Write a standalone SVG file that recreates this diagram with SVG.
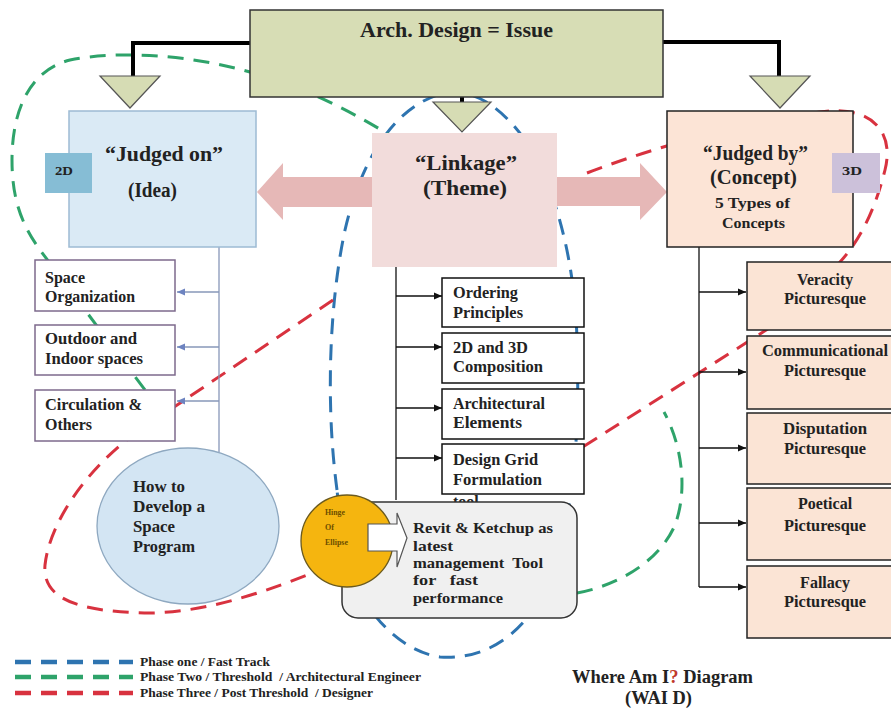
<svg xmlns="http://www.w3.org/2000/svg" width="891" height="711" viewBox="0 0 891 711">
<style>
text{font-family:"Liberation Serif","Times New Roman",serif;font-weight:bold;fill:#222}
.h{font-size:20px}
.s{font-size:16px}
.r{font-size:15px}
.c{text-anchor:middle}
.lb{fill:#fff;stroke:#7d6a8c;stroke-width:1.5}
.mb{fill:#fff;stroke:#111;stroke-width:1.5}
.rb{fill:#fbe4d5;stroke:#222;stroke-width:1.5}
.tri{fill:#d6dcb4;stroke:#555;stroke-width:1.2}
.blk{fill:none;stroke:#000;stroke-width:4}
.dash{fill:none;stroke-width:3;stroke-dasharray:16 10}
.leg{stroke-width:4.5}
.pk{fill:#e6b8b7}
.lg{font-size:12.5px}
</style>
<defs>
<marker id="ab" markerWidth="9" markerHeight="8" refX="8" refY="4" orient="auto" markerUnits="userSpaceOnUse"><path d="M0,0.5 L8,4 L0,7.5 z" fill="#111"/></marker>
<marker id="ag" markerWidth="9" markerHeight="8" refX="8" refY="4" orient="auto" markerUnits="userSpaceOnUse"><path d="M0,0.5 L8,4 L0,7.5 z" fill="#6d83c0"/></marker>
</defs>
<rect width="891" height="711" fill="#fff"/>

<g id="phase-loops">
<path class="dash" stroke="#2e74b0" d="M337 490 C325 400 330 300 345 230 C360 165 390 110 440 94 C470 86 500 105 525 140 C555 185 575 260 577 340 C580 430 575 520 545 590 C520 640 480 660 440 657 C405 652 370 620 355 580 C345 550 340 520 337 490 Z"/>
<path class="dash" stroke="#2ea36a" d="M400 142 C360 115 300 85 250 72 C190 55 120 50 70 60 C30 70 12 110 12 160 C12 200 22 225 40 250 L160 410"/>
<path class="dash" stroke="#2ea36a" d="M577 593 C620 585 660 560 675 525 C688 490 682 445 664 412"/>
<path class="dash" stroke="#d8323f" d="M587 173 Q700 130 820 112 C870 105 895 130 885 170 C875 210 860 240 840 262 C815 290 790 315 763 332 L575 452"/>
<path class="dash" stroke="#d8323f" d="M333 300 L140 430 C90 465 50 520 45 565 C42 600 80 612 150 613 C210 612 270 590 320 570"/>
</g>

<g id="connectors">
<path class="blk" d="M250 43 H133 V77"/>
<path class="blk" d="M663 42 H779 V76"/>
<path class="blk" d="M462 96 V103"/>
<polygon class="tri" points="100,76 160,76 130,108"/>
<polygon class="tri" points="750,76 810,76 780,108"/>
<polygon class="tri" points="433,102 491,102 462,132"/>
<polygon class="pk" points="372,177 283,177 283,163 257,192 283,220 283,207 372,207"/>
<polygon class="pk" points="557,177 640,177 640,163 667,192 640,220 640,206 557,206"/>
<g stroke="#8797b8" stroke-width="1.3" fill="none">
<path d="M219 247 V452"/>
<path d="M219 292 H177" marker-end="url(#ag)"/>
<path d="M219 347 H177" marker-end="url(#ag)"/>
<path d="M219 401 H177" marker-end="url(#ag)"/>
</g>
<g stroke="#111" stroke-width="1.3" fill="none">
<path d="M396 266 V500"/>
<path d="M396 296 H442" marker-end="url(#ab)"/>
<path d="M396 347 H442" marker-end="url(#ab)"/>
<path d="M396 408 H442" marker-end="url(#ab)"/>
<path d="M396 458 H442" marker-end="url(#ab)"/>
<path d="M699 247 V587"/>
<path d="M699 292 H746" marker-end="url(#ab)"/>
<path d="M699 372 H746" marker-end="url(#ab)"/>
<path d="M699 448 H746" marker-end="url(#ab)"/>
<path d="M699 523 H746" marker-end="url(#ab)"/>
<path d="M699 587 H746" marker-end="url(#ab)"/>
</g>
</g>

<g id="issue">
<rect x="250" y="10" width="413" height="87" fill="#d7ddb5" stroke="#333" stroke-width="1.5"/>
<text class="h" x="360" y="37" textLength="193" lengthAdjust="spacingAndGlyphs">Arch. Design = Issue</text>
</g>

<g id="judged-on">
<rect x="69" y="111" width="187" height="136" fill="#daeaf5" stroke="#9dbbd3" stroke-width="1.5"/>
<text class="h" x="105" y="161" textLength="118" lengthAdjust="spacingAndGlyphs">“Judged on”</text>
<text class="h" x="128" y="197" textLength="49" lengthAdjust="spacingAndGlyphs">(Idea)</text>
</g>
<g id="tag-2d">
<rect x="45" y="153" width="47" height="40" fill="#86bdd5"/>
<text x="55" y="175" font-size="13" textLength="18" lengthAdjust="spacingAndGlyphs">2D</text>
</g>

<g id="linkage">
<rect x="372" y="133" width="185" height="134" fill="#f2dcdb"/>
<text class="h" x="415" y="170" textLength="102" lengthAdjust="spacingAndGlyphs">“Linkage”</text>
<text class="h" x="423" y="195" textLength="84" lengthAdjust="spacingAndGlyphs">(Theme)</text>
</g>

<g id="judged-by">
<rect x="667" y="111" width="186" height="136" fill="#fce4d6" stroke="#222" stroke-width="1.5"/>
<text class="h" x="703" y="160" textLength="105" lengthAdjust="spacingAndGlyphs">“Judged by”</text>
<text class="h" x="710" y="184" textLength="87" lengthAdjust="spacingAndGlyphs">(Concept)</text>
<text x="715" y="208" font-size="15" textLength="75" lengthAdjust="spacingAndGlyphs">5 Types of</text>
<text x="722" y="228" font-size="15" textLength="63" lengthAdjust="spacingAndGlyphs">Concepts</text>
</g>
<g id="tag-3d">
<rect x="832" y="153" width="48" height="40" fill="#ccc1da"/>
<text x="842" y="175" font-size="13" textLength="20" lengthAdjust="spacingAndGlyphs">3D</text>
</g>

<g id="space-organization">
<rect class="lb" x="35" y="260" width="140" height="51"/>
<text class="s" x="45" y="283" textLength="40" lengthAdjust="spacingAndGlyphs">Space</text>
<text class="s" x="45" y="302" textLength="90" lengthAdjust="spacingAndGlyphs">Organization</text>
</g>
<g id="outdoor-indoor">
<rect class="lb" x="35" y="325" width="140" height="50"/>
<text class="s" x="45" y="344" textLength="92" lengthAdjust="spacingAndGlyphs">Outdoor and</text>
<text class="s" x="45" y="364" textLength="98" lengthAdjust="spacingAndGlyphs">Indoor spaces</text>
</g>
<g id="circulation">
<rect class="lb" x="35" y="390" width="140" height="51"/>
<text class="s" x="45" y="410" textLength="97" lengthAdjust="spacingAndGlyphs">Circulation &amp;</text>
<text class="s" x="45" y="430" textLength="47" lengthAdjust="spacingAndGlyphs">Others</text>
</g>
<g id="space-program">
<ellipse cx="188" cy="526" rx="91" ry="78" fill="#d3e5f3" stroke="#8ea8c0" stroke-width="1.3"/>
<text x="133" y="492" font-size="17" textLength="52" lengthAdjust="spacingAndGlyphs">How to</text>
<text x="133" y="512" font-size="17" textLength="72" lengthAdjust="spacingAndGlyphs">Develop a</text>
<text x="133" y="532" font-size="17" textLength="42" lengthAdjust="spacingAndGlyphs">Space</text>
<text x="133" y="552" font-size="17" textLength="62" lengthAdjust="spacingAndGlyphs">Program</text>
</g>

<g id="ordering">
<rect class="mb" x="442" y="278" width="142" height="49"/>
<text class="s" x="453" y="298" textLength="65" lengthAdjust="spacingAndGlyphs">Ordering</text>
<text class="s" x="453" y="318" textLength="70" lengthAdjust="spacingAndGlyphs">Principles</text>
</g>
<g id="composition">
<rect class="mb" x="442" y="333" width="142" height="50"/>
<text class="s" x="453" y="353" textLength="75" lengthAdjust="spacingAndGlyphs">2D and 3D</text>
<text class="s" x="453" y="372" textLength="90" lengthAdjust="spacingAndGlyphs">Composition</text>
</g>
<g id="elements">
<rect class="mb" x="442" y="389" width="142" height="50"/>
<text class="s" x="453" y="409" textLength="92" lengthAdjust="spacingAndGlyphs">Architectural</text>
<text class="s" x="453" y="428" textLength="69" lengthAdjust="spacingAndGlyphs">Elements</text>
</g>
<g id="design-grid">
<rect class="mb" x="442" y="444" width="142" height="50"/>
<text class="s" x="453" y="465" textLength="85" lengthAdjust="spacingAndGlyphs">Design Grid</text>
<text class="s" x="453" y="485" textLength="89" lengthAdjust="spacingAndGlyphs">Formulation</text>
<text class="s" x="453" y="507">tool</text>
</g>

<g id="revit">
<rect x="342" y="502" width="235" height="116" rx="16" fill="#f0f0f0" stroke="#333" stroke-width="1.5"/>
<text class="r" x="413" y="533" textLength="140" lengthAdjust="spacingAndGlyphs">Revit &amp; Ketchup as</text>
<text class="r" x="413" y="551" textLength="40" lengthAdjust="spacingAndGlyphs">latest</text>
<text class="r" x="413" y="568" textLength="130" lengthAdjust="spacingAndGlyphs" xml:space="preserve">management  Tool</text>
<text class="r" x="413" y="585" textLength="65" lengthAdjust="spacingAndGlyphs" xml:space="preserve">for   fast</text>
<text class="r" x="413" y="603" textLength="90" lengthAdjust="spacingAndGlyphs">performance</text>
</g>
<g id="hinge">
<circle cx="347" cy="541" r="46" fill="#f5b50f" stroke="#6b5a1e" stroke-width="1.3"/>
<text x="325" y="515" font-size="8" textLength="20" lengthAdjust="spacingAndGlyphs" style="fill:#6b4e00">Hinge</text>
<text x="325" y="530" font-size="8" style="fill:#6b4e00">Of</text>
<text x="325" y="545" font-size="8" textLength="23" lengthAdjust="spacingAndGlyphs" style="fill:#6b4e00">Ellipse</text>
<polygon points="368,524 397,524 397,513 407,538 397,567 397,551 368,551" fill="#fff" stroke="#555" stroke-width="1.2"/>
</g>

<g id="veracity">
<rect class="rb" x="747" y="262" width="150" height="68"/>
<text class="s c" x="825" y="285" textLength="56" lengthAdjust="spacingAndGlyphs">Veracity</text>
<text class="s c" x="825" y="304" textLength="82" lengthAdjust="spacingAndGlyphs">Picturesque</text>
</g>
<g id="communicational">
<rect class="rb" x="747" y="336" width="150" height="73"/>
<text class="s c" x="825" y="356" textLength="126" lengthAdjust="spacingAndGlyphs">Communicational</text>
<text class="s c" x="825" y="376" textLength="82" lengthAdjust="spacingAndGlyphs">Picturesque</text>
</g>
<g id="disputation">
<rect class="rb" x="747" y="413" width="150" height="71"/>
<text class="s c" x="825" y="434" textLength="84" lengthAdjust="spacingAndGlyphs">Disputation</text>
<text class="s c" x="825" y="454" textLength="82" lengthAdjust="spacingAndGlyphs">Picturesque</text>
</g>
<g id="poetical">
<rect class="rb" x="747" y="488" width="150" height="72"/>
<text class="s c" x="825" y="509">Poetical</text>
<text class="s c" x="825" y="531" textLength="82" lengthAdjust="spacingAndGlyphs">Picturesque</text>
</g>
<g id="fallacy">
<rect class="rb" x="747" y="566" width="150" height="72"/>
<text class="s c" x="825" y="588">Fallacy</text>
<text class="s c" x="825" y="607" textLength="82" lengthAdjust="spacingAndGlyphs">Picturesque</text>
</g>

<g id="legend">
<path class="dash leg" stroke="#2e74b0" stroke-dasharray="18 17" d="M15 662 H133"/>
<path class="dash leg" stroke="#2ea36a" stroke-dasharray="18 17" d="M15 677 H133"/>
<path class="dash leg" stroke="#d8323f" stroke-dasharray="18 17" d="M15 693 H133"/>
<text class="lg" x="140" y="666" textLength="130" lengthAdjust="spacingAndGlyphs">Phase one / Fast Track</text>
<text class="lg" x="140" y="681" textLength="281" lengthAdjust="spacingAndGlyphs" xml:space="preserve">Phase Two / Threshold  / Architectural Engineer</text>
<text class="lg" x="140" y="697" textLength="233" lengthAdjust="spacingAndGlyphs" xml:space="preserve">Phase Three / Post Threshold  / Designer</text>
</g>

<g id="title">
<text x="572" y="683" font-size="18" textLength="181" lengthAdjust="spacingAndGlyphs">Where Am I<tspan style="fill:#c0392b">?</tspan> Diagram</text>
<text x="625" y="704" font-size="18" textLength="67" lengthAdjust="spacingAndGlyphs">(WAI D)</text>
</g>
</svg>
